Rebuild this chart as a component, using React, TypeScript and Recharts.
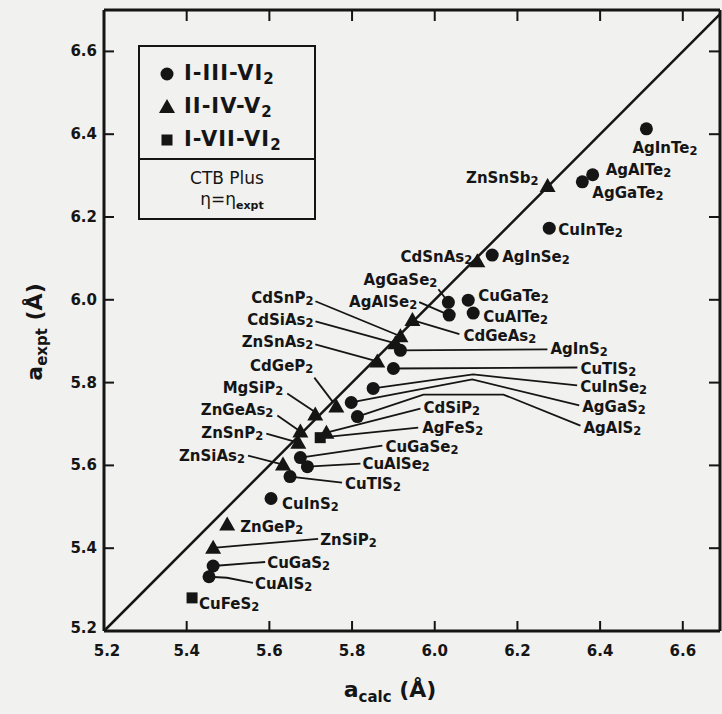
import React from 'react';
import { Legend, ReferenceLine, Scatter, ScatterChart, XAxis, YAxis } from 'recharts';

// I-III-VI2 (circles)
const chalcoNames = [
  'AgInTe2', 'AgAlTe2', 'AgGaTe2', 'CuInTe2', 'AgInSe2', 'CuGaTe2', 'CuAlTe2',
  'AgGaSe2', 'AgAlSe2', 'AgInS2', 'CuTlS2', 'CuInSe2', 'AgGaS2', 'AgAlS2',
  'CuGaSe2', 'CuAlSe2', 'CuTlS2', 'CuInS2', 'CuGaS2', 'CuAlS2',
];
const chalcoCalc = [
  6.512, 6.382, 6.357, 6.277, 6.139, 6.081, 6.093, 6.033, 6.035, 5.917,
  5.9, 5.851, 5.798, 5.813, 5.675, 5.692, 5.65, 5.604, 5.464, 5.454,
];
const chalcoExpt = [
  6.413, 6.302, 6.285, 6.173, 6.108, 5.999, 5.968, 5.994, 5.963, 5.878,
  5.834, 5.786, 5.752, 5.718, 5.619, 5.597, 5.573, 5.52, 5.357, 5.331,
];

// II-IV-V2 (triangles)
const pnictNames = [
  'ZnSnSb2', 'CdSnAs2', 'CdGeAs2', 'CdSnP2', 'CdSiAs2', 'ZnSnAs2', 'CdGeP2',
  'MgSiP2', 'ZnGeAs2', 'CdSiP2', 'ZnSnP2', 'ZnSiAs2', 'ZnGeP2', 'ZnSiP2',
];
const pnictCalc = [
  6.273, 6.103, 5.946, 5.917, 5.905, 5.861, 5.762, 5.711, 5.675, 5.738, 5.67, 5.633, 5.498, 5.464,
];
const pnictExpt = [
  6.275, 6.093, 5.951, 5.912, 5.895, 5.851, 5.742, 5.723, 5.682, 5.679, 5.655, 5.602, 5.457, 5.401,
];

// I-VII-VI2 (squares)
const feNames = ['AgFeS2', 'CuFeS2'];
const feCalc = [5.723, 5.413];
const feExpt = [5.667, 5.28];

const seriesNames = ['I-III-VI2', 'II-IV-V2', 'I-VII-VI2'];
const axisTicks = [5.2, 5.4, 5.6, 5.8, 6.0, 6.2, 6.4, 6.6];

// label placement, px offsets from the point (layout only)
type Place = { dx: number; dy: number; end?: boolean; lead?: number[][] };
const chalcoLabels: Place[] = [
  { dx: -14, dy: 24 },
  { dx: 13, dy: 0 },
  { dx: 10, dy: 16 },
  { dx: 9, dy: 7 },
  { dx: 10, dy: 7 },
  { dx: 10, dy: 1 },
  { dx: 10, dy: 9 },
  { dx: -11, dy: -17, end: true, lead: [[-10, -13], [0, 0]] },
  { dx: -32, dy: -8, end: true, lead: [[-30, -13], [0, 0]] },
  { dx: 150, dy: 4, lead: [[0, 0], [147, -1]] },
  { dx: 187, dy: 5, lead: [[0, 0], [184, -1]] },
  { dx: 207, dy: 4, lead: [[0, 0], [100, -14], [204, -3]] },
  { dx: 231, dy: 10, lead: [[0, 0], [121, -23], [228, 3]] },
  { dx: 226, dy: 16, lead: [[0, 0], [66, -22], [146, -22], [223, 9]] },
  { dx: 85, dy: -6, lead: [[0, 0], [82, -12]] },
  { dx: 55, dy: 2, lead: [[0, 0], [53, -3]] },
  { dx: 55, dy: 12, lead: [[0, 0], [52, 6]] },
  { dx: 11, dy: 10 },
  { dx: 54, dy: 2, lead: [[0, 0], [52, -4]] },
  { dx: 46, dy: 12, lead: [[0, 0], [18, 1], [44, 6]] },
];
const pnictLabels: Place[] = [
  { dx: -9, dy: -3, end: true },
  { dx: -5, dy: 1, end: true },
  { dx: 51, dy: 21, lead: [[0, 0], [47, 14]] },
  { dx: -87, dy: -33, end: true, lead: [[-85, -35], [0, 0]] },
  { dx: -82, dy: -18, end: true, lead: [[-80, -22], [0, 0]] },
  { dx: -64, dy: -14, end: true, lead: [[-62, -17], [0, 0]] },
  { dx: -23, dy: -36, end: true, lead: [[-22, -29], [-3, -4]] },
  { dx: -32, dy: -21, end: true, lead: [[-28, -21], [-1, -3]] },
  { dx: -27, dy: -16, end: true, lead: [[-23, -16], [0, 0]] },
  { dx: 97, dy: -20, lead: [[0, 0], [94, -24]] },
  { dx: -35, dy: -5, end: true, lead: [[-32, -9], [0, 0]] },
  { dx: -38, dy: -4, end: true, lead: [[-35, -9], [0, 0]] },
  { dx: 13, dy: 7 },
  { dx: 107, dy: -3, lead: [[0, 0], [105, -9]] },
];
const feLabels: Place[] = [
  { dx: 102, dy: -5, lead: [[0, 0], [98, -10]] },
  { dx: 7, dy: 11 },
];

const FONT = "'DejaVu Sans', sans-serif";
const INK = '#151515';
const PLOT_W = 616;
const PLOT_H = 621;

const build = (names: string[], calc: number[], expt: number[]) =>
  names.map((name, i) => ({ name, calc: calc[i], expt: expt[i], i }));

const chalcoData = build(chalcoNames, chalcoCalc, chalcoExpt);
const pnictData = build(pnictNames, pnictCalc, pnictExpt);
const feData = build(feNames, feCalc, feExpt);

const splitSub = (s: string) => {
  const m = s.match(/^(.*?)(\d+)$/);
  return m ? [m[1], m[2]] : [s, ''];
};

const Marker = ({ kind, cx, cy }: { kind: number; cx: number; cy: number }) => {
  if (kind === 0) return <circle cx={cx} cy={cy} r={6.5} fill={INK} />;
  if (kind === 1)
    return <polygon points={`${cx},${cy - 8} ${cx - 8},${cy + 6} ${cx + 8},${cy + 6}`} fill={INK} />;
  return <rect x={cx - 5.5} y={cy - 5.5} width={11} height={11} fill={INK} />;
};

const makeShape = (kind: number, places: Place[]) => (props: any) => {
  const { cx, cy, payload } = props;
  const p = places[payload.i];
  const [base, sub] = splitSub(payload.name);
  return (
    <g>
      {p.lead && (
        <polyline
          points={p.lead.map(([a, b]) => `${cx + a},${cy + b}`).join(' ')}
          fill="none"
          stroke={INK}
          strokeWidth={1.8}
        />
      )}
      <Marker kind={kind} cx={cx} cy={cy} />
      <text
        x={cx + p.dx}
        y={cy + p.dy}
        textAnchor={p.end ? 'end' : 'start'}
        fontFamily={FONT}
        fontWeight="bold"
        fontSize={15}
        fill={INK}
      >
        {base}
        {sub && (
          <tspan fontSize={11.5} dy={2}>
            {sub}
          </tspan>
        )}
      </text>
    </g>
  );
};

// bottom ticks also draw the matching inward ticks on the top frame
const BottomTick = (props: any) => {
  const { x, y, payload } = props;
  const inner = payload.value > 5.2;
  return (
    <g>
      {inner && <line x1={x} y1={y} x2={x} y2={y - 10} stroke={INK} strokeWidth={2} />}
      {inner && <line x1={x} y1={y - PLOT_H} x2={x} y2={y - PLOT_H + 11} stroke={INK} strokeWidth={2} />}
      <text x={x + (payload.value === 5.2 ? 3 : 0)} y={y + 25} textAnchor="middle" fontFamily={FONT} fontWeight="bold" fontSize={15} fill={INK}>
        {payload.value.toFixed(1)}
      </text>
    </g>
  );
};

// left ticks also draw the matching inward ticks on the right frame
const LeftTick = (props: any) => {
  const { x, y, payload } = props;
  const inner = payload.value > 5.2;
  return (
    <g>
      {inner && <line x1={x} y1={y} x2={x + 10} y2={y} stroke={INK} strokeWidth={2} />}
      {inner && <line x1={x + PLOT_W} y1={y} x2={x + PLOT_W - 11} y2={y} stroke={INK} strokeWidth={2} />}
      <text x={x - 7} y={y + (payload.value === 5.2 ? 2 : 5)} textAnchor="end" fontFamily={FONT} fontWeight="bold" fontSize={15} fill={INK}>
        {payload.value.toFixed(1)}
      </text>
    </g>
  );
};

const XTitle = (props: any) => {
  const { x, y } = props.viewBox;
  return (
    <text x={x + 286} y={y + 66} textAnchor="middle" fontFamily={FONT} fontWeight="bold" fontSize={22} fill={INK}>
      a
      <tspan fontSize={15} dy={5}>calc</tspan>
      <tspan dy={-5}> (Å)</tspan>
    </text>
  );
};

const YTitle = (props: any) => {
  const { x, y } = props.viewBox;
  const cx = x - 2;
  const cy = y + 322;
  return (
    <text
      x={cx}
      y={cy}
      transform={`rotate(-90, ${cx}, ${cy})`}
      textAnchor="middle"
      fontFamily={FONT}
      fontWeight="bold"
      fontSize={22}
      fill={INK}
    >
      a
      <tspan fontSize={15} dy={5}>expt</tspan>
      <tspan dy={-5}> (Å)</tspan>
    </text>
  );
};

const LegendBox = () => (
  <div style={{ width: 174, border: `2px solid ${INK}`, fontFamily: FONT, color: INK }}>
    <div style={{ padding: '10px 0 2px 18px' }}>
      {seriesNames.map((name, k) => {
        const [base, sub] = splitSub(name);
        return (
          <div key={name} style={{ display: 'flex', alignItems: 'center', height: 33 }}>
            <svg width={18} height={18}>
              <Marker kind={k} cx={9} cy={9} />
            </svg>
            <span style={{ marginLeft: 8, fontSize: 21, fontWeight: 'bold', letterSpacing: 1, lineHeight: '22px' }}>
              {base}
              <span style={{ fontSize: 15, position: 'relative', top: 4 }}>{sub}</span>
            </span>
          </div>
        );
      })}
    </div>
    <div style={{ borderTop: `2px solid ${INK}`, textAlign: 'center', fontSize: 17, padding: '8px 0 6px', lineHeight: '21px' }}>
      <div>CTB Plus</div>
      <div style={{ paddingLeft: 10 }}>
        η=η<span style={{ fontSize: 11, fontWeight: 'bold', position: 'relative', top: 4 }}>expt</span>
      </div>
    </div>
  </div>
);

const axisLine = { stroke: INK, strokeWidth: 3 };

export default function App() {
  return (
    <div style={{ position: 'absolute', left: 0, top: 0, width: 722, height: 714, background: '#f1f1ef' }}>
      <ScatterChart width={722} height={714} margin={{ top: 10, right: 2, left: 44, bottom: 33 }}>
        <XAxis
          type="number"
          dataKey="calc"
          domain={[5.2, 6.69]}
          ticks={axisTicks}
          interval={0}
          allowDataOverflow
          height={50}
          axisLine={axisLine}
          tickLine={false}
          tickSize={0}
          tickMargin={0}
          tick={BottomTick}
          label={<XTitle />}
        />
        <YAxis
          type="number"
          dataKey="expt"
          domain={[5.2, 6.7]}
          ticks={axisTicks}
          interval={0}
          allowDataOverflow
          width={60}
          axisLine={axisLine}
          tickLine={false}
          tickSize={0}
          tickMargin={0}
          tick={LeftTick}
          label={<YTitle />}
        />
        <ReferenceLine y={6.7} stroke={INK} strokeWidth={3} />
        <ReferenceLine x={6.69} stroke={INK} strokeWidth={3} />
        <ReferenceLine
          segment={[
            { x: 5.2, y: 5.2 },
            { x: 6.69, y: 6.69 },
          ]}
          stroke={INK}
          strokeWidth={2.5}
        />
        <Scatter name={seriesNames[0]} data={chalcoData} shape={makeShape(0, chalcoLabels)} isAnimationActive={false} />
        <Scatter name={seriesNames[1]} data={pnictData} shape={makeShape(1, pnictLabels)} isAnimationActive={false} />
        <Scatter name={seriesNames[2]} data={feData} shape={makeShape(2, feLabels)} isAnimationActive={false} />
        <Legend
          layout="vertical"
          align="center"
          verticalAlign="middle"
          content={<LegendBox />}
          wrapperStyle={{ left: 138, top: 45, width: 178 }}
        />
      </ScatterChart>
    </div>
  );
}
